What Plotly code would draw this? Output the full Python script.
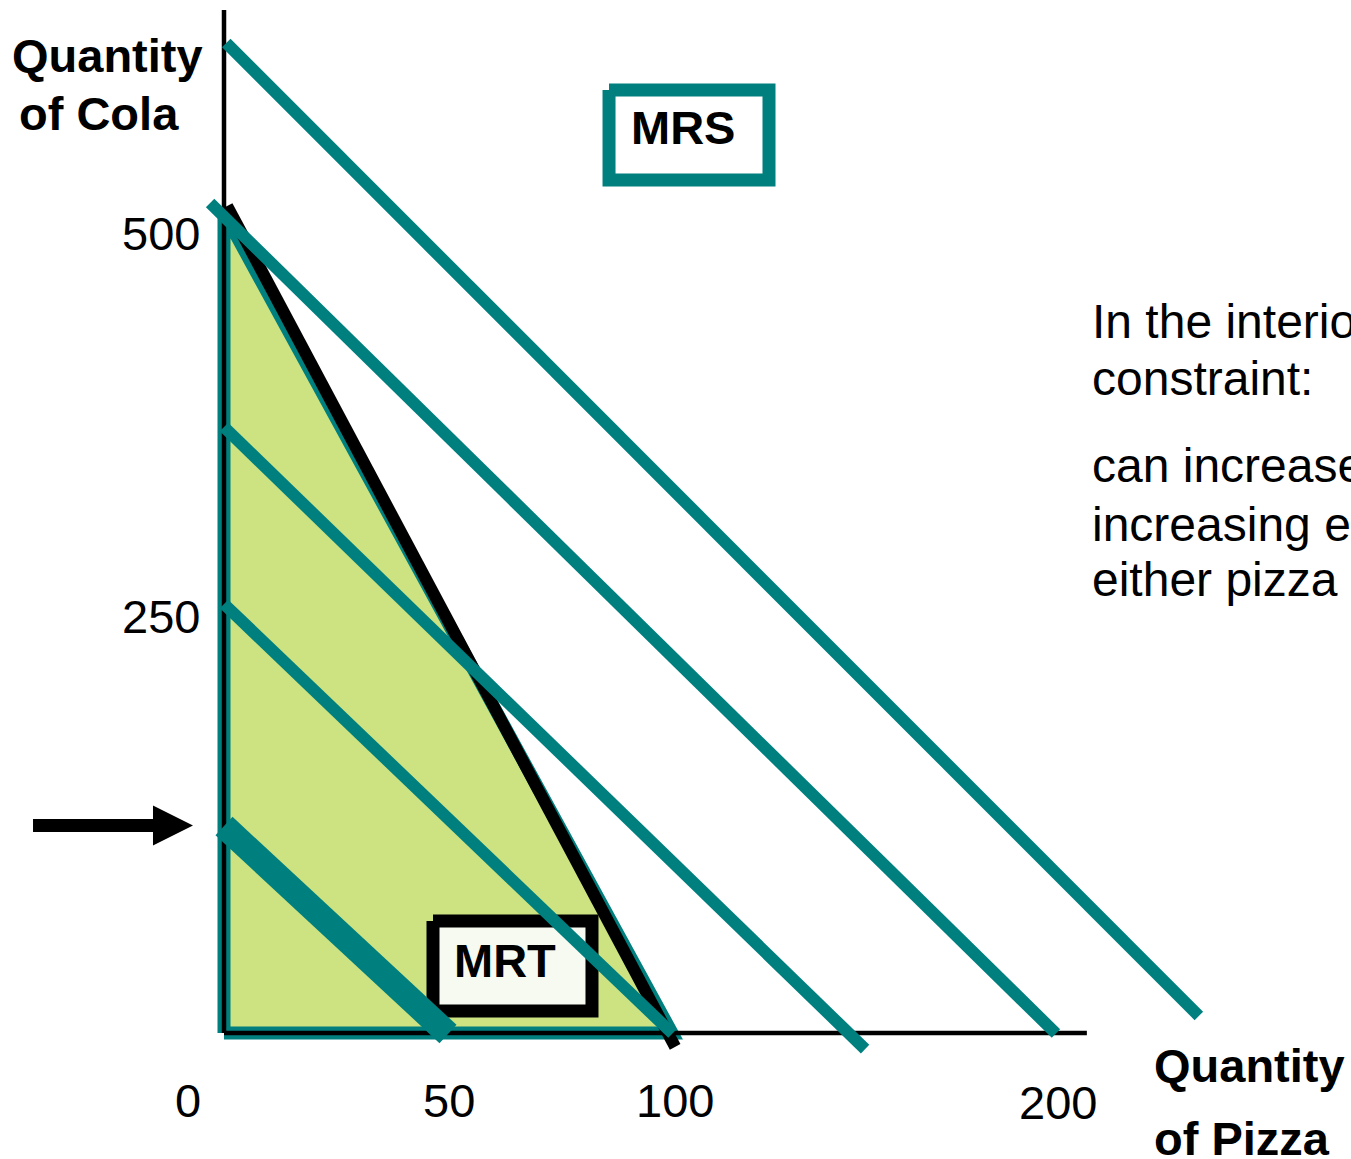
import plotly.graph_objects as go

# ---- data (quantities of pizza on x, quantities of cola on y) ----
# production possibilities frontier: 500 cola or 100 pizza
ppf_pizza = [0, 0, 100, 0]
ppf_cola = [0, 500, 0, 0]

# marginal rate of transformation line (drawn slightly past both intercepts)
mrt_pizza = [0.7, 100.7]
mrt_cola = [504.3, -8.5]

# indifference lines, from highest to lowest utility
indiff_pizza = [
    [0.5, 217.6],
    [-3.1, 185.7],
    [0.0, 143.1],
    [0.0, 100.1],
]
indiff_cola = [
    [603.7, 10.4],
    [506.1, -0.3],
    [369.5, -9.8],
    [261.6, -0.3],
]

# the interior bundle's indifference line (highlighted)
low_pizza = [0.0, 50.0]
low_cola = [126.2, -0.6]

# cola level marked by the arrow
arrow_cola = 126.5

# tick labels
x_tick_labels = ["0", "50", "100", "200"]
y_tick_labels = ["500", "250"]

side_text = [
    "In the interior of the",
    "constraint:",
    "can increase utility by",
    "increasing expenditure on",
    "either pizza or cola",
]

# ---- styling ----
W, H = 1351, 1159
TEAL = "#007F7F"
GREEN = "#CDE382"
FONT = "Liberation Sans, Arial, sans-serif"
FS_BOLD = 47
FS_TICK = 47
FS_SIDE = 48

# axis ranges: origin sits at (224, 1033) on the canvas
X_RANGE = [-50.0, 251.56]
Y_RANGE = [-76.83, 629.88]


def fx(px):
    return px / W


def fy(py):
    return 1 - py / H


fig = go.Figure()

# feasible set
fig.add_trace(go.Scatter(
    x=ppf_pizza, y=ppf_cola, mode="lines", fill="toself",
    fillcolor=GREEN, line=dict(color=TEAL, width=13),
    hoverinfo="skip",
))

# axes
fig.add_trace(go.Scatter(
    x=[0, 0, None, 0, 192.6], y=[623.8, 0, None, 0, 0], mode="lines",
    line=dict(color="black", width=4.5), hoverinfo="skip",
))

# MRT line
fig.add_trace(go.Scatter(
    x=mrt_pizza, y=mrt_cola, mode="lines",
    line=dict(color="black", width=12), hoverinfo="skip",
))

# MRT label box
fig.add_trace(go.Scatter(
    x=[46.65, 82.14, 82.14, 46.65, 46.65],
    y=[68.3, 68.3, 13.4, 13.4, 68.3],
    mode="lines", fill="toself", fillcolor="#F7FAF0",
    line=dict(color="black", width=13), hoverinfo="skip",
))

# MRS label box
fig.add_trace(go.Scatter(
    x=[85.94, 121.65, 121.65, 85.94, 85.94],
    y=[575.0, 575.0, 520.1, 520.1, 575.0],
    mode="lines", fill="toself", fillcolor="white",
    line=dict(color=TEAL, width=13), hoverinfo="skip",
))

# indifference lines
for xs, ys in zip(indiff_pizza, indiff_cola):
    fig.add_trace(go.Scatter(
        x=xs, y=ys, mode="lines",
        line=dict(color=TEAL, width=12), hoverinfo="skip",
    ))

fig.add_trace(go.Scatter(
    x=low_pizza, y=low_cola, mode="lines",
    line=dict(color=TEAL, width=25), hoverinfo="skip",
))

# arrow pointing at the interior bundle's cola level
shaft_half = 6.5 / 1.64
head_half = 20 / 1.64
ax = [-42.63, -15.85, -15.85, -6.92, -15.85, -15.85, -42.63, -42.63]
ay = [arrow_cola + shaft_half, arrow_cola + shaft_half, arrow_cola + head_half,
      arrow_cola, arrow_cola - head_half, arrow_cola - shaft_half,
      arrow_cola - shaft_half, arrow_cola + shaft_half]
fig.add_trace(go.Scatter(
    x=ax, y=ay, mode="lines", fill="toself", fillcolor="black",
    line=dict(color="black", width=0), hoverinfo="skip",
))

annotations = []


def label(text, x, y, anchor="center", bold=False, size=FS_BOLD):
    annotations.append(dict(
        text=text, xref="paper", yref="paper", x=fx(x), y=fy(y),
        xanchor=anchor, yanchor="middle", showarrow=False,
        font=dict(family=FONT, size=size, color="black",
                  weight="bold" if bold else "normal"),
    ))


# axis titles
label("Quantity", 107.5, 55, bold=True)
label("of Cola", 99, 113, bold=True)
label("Quantity", 1152, 1065, anchor="left", bold=True)
label("of Pizza", 1152, 1138, anchor="left", bold=True)

# tick labels
for t, x, y in zip(x_tick_labels, [188, 449, 675, 1058], [1100, 1100, 1100, 1102]):
    label(t, x, y, size=FS_TICK)
for t, y in zip(y_tick_labels, [233.5, 616]):
    label(t, 161, y, size=FS_TICK)

# box captions
label("MRS", 682.5, 127.5, bold=True)
label("MRT", 505, 960.5, bold=True)

# explanatory text on the right
for t, y in zip(side_text, [321.5, 378.5, 466, 524, 579]):
    label(t, 1090, y, anchor="left", size=FS_SIDE)

fig.update_layout(
    width=W, height=H,
    margin=dict(l=0, r=0, t=0, b=0),
    paper_bgcolor="white", plot_bgcolor="white",
    showlegend=False,
    xaxis=dict(range=X_RANGE, visible=False, fixedrange=True),
    yaxis=dict(range=Y_RANGE, visible=False, fixedrange=True),
    annotations=annotations,
)

fig.write_html("out.html", config={"displayModeBar": False})
